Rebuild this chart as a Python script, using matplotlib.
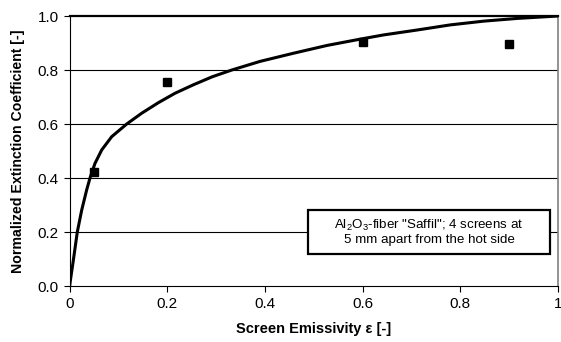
"""Normalized extinction coefficient vs. screen emissivity."""
import matplotlib
matplotlib.use("Agg")
import matplotlib.pyplot as plt
from matplotlib.patches import Rectangle

plt.rcParams["font.family"] = ["Liberation Sans", "DejaVu Sans"]
plt.rcParams["mathtext.fontset"] = "custom"
plt.rcParams["mathtext.rm"] = "Liberation Sans"
plt.rcParams["mathtext.default"] = "regular"

# measured points
emis_pts = [0.05, 0.2, 0.6, 0.9]
coef_pts = [0.421, 0.756, 0.905, 0.895]

# curve
emis_curve = [0, 0.0014, 0.0074, 0.0129, 0.0156, 0.0246, 0.0348, 0.0416, 0.0518,
              0.0656, 0.086, 0.1168, 0.1475, 0.1816, 0.2158, 0.253, 0.292, 0.332,
              0.39, 0.458, 0.527, 0.591, 0.643, 0.711, 0.779, 0.848, 0.916, 1.0]
coef_curve = [0, 0.02, 0.094, 0.165, 0.2, 0.281, 0.356, 0.4, 0.454,
              0.504, 0.553, 0.6, 0.64, 0.679, 0.714, 0.745, 0.775, 0.8,
              0.832, 0.862, 0.891, 0.913, 0.93, 0.948, 0.967, 0.981, 0.991, 1.0]

x_ticks = [0, 0.2, 0.4, 0.6, 0.8, 1.0]
x_labels = ["0", "0.2", "0.4", "0.6", "0.8", "1"]
y_ticks = [0, 0.2, 0.4, 0.6, 0.8, 1.0]
y_labels = ["0.0", "0.2", "0.4", "0.6", "0.8", "1.0"]

fig = plt.figure(figsize=(5.61, 3.42), dpi=100)
ax = fig.add_axes([0.1242, 0.1637, 0.8705, 0.7895])

for yv in y_ticks[1:-1]:
    ax.axhline(yv, color="black", linewidth=0.8, zorder=1)

ax.plot(emis_curve, coef_curve, color="black", linewidth=2.2,
        solid_capstyle="round", solid_joinstyle="round", zorder=3)
ax.plot(emis_pts, coef_pts, linestyle="none", marker="s", markersize=6,
        color="black", zorder=4)

ax.set_xlim(0, 1)
ax.set_ylim(0, 1)
ax.set_xticks(x_ticks)
ax.set_xticklabels(x_labels)
ax.set_yticks(y_ticks)
ax.set_yticklabels(y_labels)
ax.tick_params(direction="out", length=4, width=0.8, labelsize=11, pad=4)

ax.spines["left"].set_color("black")
ax.spines["bottom"].set_color("black")
ax.spines["top"].set_color("black")
ax.spines["top"].set_linewidth(1.6)
ax.spines["right"].set_color("#808080")
ax.spines["right"].set_linewidth(1.2)

ax.set_xlabel("Screen Emissivity ε [-]", fontsize=10.5, fontweight="bold", labelpad=8)
ax.set_ylabel("Normalized Extinction Coefficient [-]", fontsize=10.2,
              fontweight="bold", labelpad=9)

ax.add_patch(Rectangle((0.488, 0.119), 0.496, 0.161, transform=ax.transData,
                       facecolor="white", edgecolor="black", linewidth=1.6,
                       zorder=5))
ax.text(0.736, 0.2, 'Al$_2$O$_3$-fiber "Saffil"; 4 screens at\n5 mm apart from the hot side',
        ha="center", va="center", fontsize=9.6, linespacing=1.1, zorder=6)

fig.savefig("out.png", dpi=100, facecolor="white")
